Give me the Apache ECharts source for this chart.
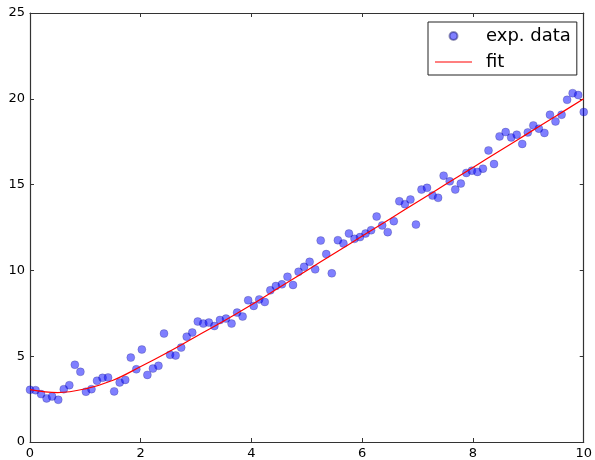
<!DOCTYPE html>
<html>
<head>
<meta charset="utf-8">
<script src="https://cdn.jsdelivr.net/npm/echarts@6/dist/echarts.min.js"></script>
<style>
  html, body { margin: 0; padding: 0; background: #fff; }
  #main { width: 595px; height: 460px; }
</style>
</head>
<body>
<div id="main"></div>
<script>
// measured points (x evenly spaced 0..10, 100 samples)
var dataX = [0, 0.10, 0.20, 0.30, 0.40, 0.51, 0.61, 0.71, 0.81, 0.91,
    1.01, 1.11, 1.21, 1.31, 1.41, 1.52, 1.62, 1.72, 1.82, 1.92,
    2.02, 2.12, 2.22, 2.32, 2.42, 2.53, 2.63, 2.73, 2.83, 2.93,
    3.03, 3.13, 3.23, 3.33, 3.43, 3.54, 3.64, 3.74, 3.84, 3.94,
    4.04, 4.14, 4.24, 4.34, 4.44, 4.55, 4.65, 4.75, 4.85, 4.95,
    5.05, 5.15, 5.25, 5.35, 5.45, 5.56, 5.66, 5.76, 5.86, 5.96,
    6.06, 6.16, 6.26, 6.36, 6.46, 6.57, 6.67, 6.77, 6.87, 6.97,
    7.07, 7.17, 7.27, 7.37, 7.47, 7.58, 7.68, 7.78, 7.88, 7.98,
    8.08, 8.18, 8.28, 8.38, 8.48, 8.59, 8.69, 8.79, 8.89, 8.99,
    9.09, 9.19, 9.29, 9.39, 9.49, 9.60, 9.70, 9.80, 9.90, 10.00];
var dataY = [3.04, 3.02, 2.79, 2.54, 2.65, 2.46, 3.08, 3.31, 4.50, 4.09,
    2.93, 3.08, 3.57, 3.74, 3.76, 2.95, 3.47, 3.62, 4.92, 4.24,
    5.39, 3.91, 4.28, 4.44, 6.32, 5.08, 5.04, 5.50, 6.14, 6.38,
    7.02, 6.90, 6.96, 6.76, 7.11, 7.19, 6.90, 7.54, 7.31, 8.26,
    7.93, 8.31, 8.16, 8.84, 9.09, 9.19, 9.63, 9.15, 9.92, 10.21,
    10.50, 10.06, 11.74, 10.95, 9.83, 11.76, 11.57, 12.15, 11.84, 11.94,
    12.15, 12.34, 13.14, 12.62, 12.23, 12.87, 14.03, 13.86, 14.13, 12.67,
    14.71, 14.81, 14.36, 14.23, 15.52, 15.19, 14.71, 15.06, 15.68, 15.81,
    15.74, 15.93, 16.99, 16.20, 17.81, 18.06, 17.75, 17.91, 17.37, 18.04,
    18.45, 18.26, 18.01, 19.07, 18.68, 19.07, 19.94, 20.33, 20.22, 19.23];

// fitted curve
var fitX = [0, 0.5, 1, 1.5, 2, 2.5, 3, 3.5, 4, 4.5, 5, 5.5, 6, 6.5, 7, 7.5, 8, 8.5, 9, 9.5, 10];
var fitY = [3.05, 2.88, 3.1, 3.6, 4.4, 5.25, 6.15, 7.05, 8.0, 9.0, 10.0, 11.0, 12.0, 13.0, 14.0, 15.0, 16.0, 17.0, 18.0, 19.0, 20.0];

var xTicks = [0, 2, 4, 6, 8, 10];
var yTicks = [0, 5, 10, 15, 20, 25];

var font = 'DejaVu Sans';
var axisColor = '#333';

var dom = document.getElementById('main');
var myChart = echarts.init(dom, null, { renderer: 'canvas' });

function axisBase(ticks, pos, labels) {
    return {
        type: 'value',
        position: pos,
        min: ticks[0],
        max: ticks[ticks.length - 1],
        interval: ticks[1] - ticks[0],
        axisLine: { show: true, onZero: false, lineStyle: { color: axisColor, width: 1.2 } },
        axisTick: { show: true, inside: true, length: 4, lineStyle: { color: axisColor, width: 1 } },
        axisLabel: { show: labels, color: '#000', fontSize: 13, fontFamily: font, margin: 5 },
        splitLine: { show: false }
    };
}

var scatterData = dataX.map(function (x, i) { return [x, dataY[i]]; });
var fitData = fitX.map(function (x, i) { return [x, fitY[i]]; });

var option = {
    animation: false,
    backgroundColor: '#fff',
    grid: { left: 30, right: 10, top: 13, bottom: 17 },
    legend: {
        left: 428,
        top: 22,
        orient: 'vertical',
        backgroundColor: '#fff',
        borderColor: '#222',
        borderWidth: 1,
        borderRadius: 0,
        padding: [5, 6, 4, 7],
        itemGap: 8,
        itemWidth: 37,
        itemHeight: 8,
        textStyle: { fontFamily: font, fontSize: 18, color: '#000', padding: [0, 0, 0, 9] },
        data: [
            { name: 'exp. data', icon: 'circle' },
            { name: 'fit', icon: 'path://M0,0 L37,0 L37,1 L0,1 Z' }
        ]
    },
    xAxis: [axisBase(xTicks, 'bottom', true), axisBase(xTicks, 'top', false)],
    yAxis: [axisBase(yTicks, 'left', true), axisBase(yTicks, 'right', false)],
    series: [
        {
            name: 'exp. data',
            type: 'scatter',
            symbol: 'circle',
            symbolSize: 8,
            itemStyle: {
                color: 'rgba(0, 0, 255, 0.5)',
                borderColor: 'rgba(0, 0, 80, 0.4)',
                borderWidth: 0.5,
                opacity: 1
            },
            data: scatterData
        },
        {
            name: 'fit',
            type: 'line',
            smooth: 0.4,
            showSymbol: false,
            symbol: 'none',
            lineStyle: { color: '#ff0000', width: 1.2 },
            itemStyle: { color: '#ff0000' },
            data: fitData
        }
    ]
};

myChart.setOption(option);
</script>
</body>
</html>
